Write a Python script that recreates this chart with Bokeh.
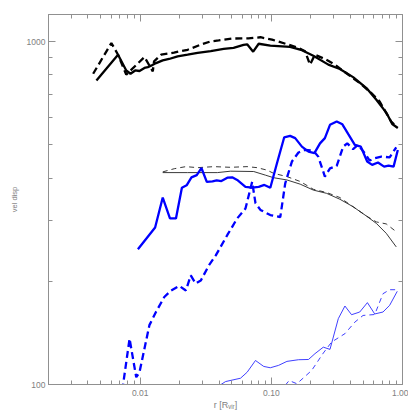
from bokeh.plotting import figure
from bokeh.models import LogAxis, FixedTicker, Range1d, PrintfTickFormatter
from bokeh.embed import file_html
from bokeh.resources import INLINE

# ---------------- data ----------------
# thick black, solid
bk_thick_solid_r = [0.00464, 0.00678, 0.00783, 0.00844, 0.00916, 0.00988, 0.01078, 0.01144, 0.01211, 0.01322,
                    0.01486, 0.0166, 0.0193, 0.0230, 0.0274, 0.0345, 0.0433, 0.0515, 0.0614, 0.0654, 0.0727,
                    0.0801, 0.0982, 0.139, 0.171, 0.209, 0.272, 0.333, 0.420, 0.531, 0.632, 0.752, 0.835, 0.921]
bk_thick_solid_v = [770, 916, 824, 806, 824, 821, 838, 843, 851, 866,
                    882, 890, 906, 916, 927, 939, 952, 959, 978, 982, 935,
                    986, 973, 966, 944, 910, 857, 832, 788, 732, 677, 621, 575, 560]

# thick black, dashed
bk_thick_dash_r = [0.00438, 0.00603, 0.00678, 0.00783, 0.01078, 0.01248, 0.01276, 0.01443, 0.0181, 0.0230,
                   0.0290, 0.0345, 0.0397, 0.0503, 0.0669, 0.0826, 0.1012, 0.1345, 0.161, 0.181, 0.197,
                   0.215, 0.256, 0.305, 0.385, 0.472, 0.579, 0.670, 0.752, 0.820, 0.896]
bk_thick_dash_v = [806, 991, 916, 801, 902, 819, 876, 916, 929, 947,
                   980, 1002, 1008, 1021, 1022, 1030, 1014, 980, 959, 937, 857,
                   916, 890, 857, 802, 757, 708, 669, 619, 585, 565]

# thin black, solid
bk_thin_solid_r = [0.01486, 0.0230, 0.0388, 0.0489, 0.0734, 0.0901, 0.104, 0.1315, 0.166, 0.209,
                   0.264, 0.333, 0.420, 0.531, 0.632, 0.752, 0.896]
bk_thin_solid_v = [415, 415, 415, 419, 418, 408, 401, 395, 384, 369,
                   361, 347, 330, 310, 295, 276, 252]

# thin black, dashed
bk_thin_dash_r = [0.01486, 0.0182, 0.0223, 0.0274, 0.0366, 0.0489, 0.0654, 0.0779, 0.0927, 0.104,
                  0.1315, 0.166, 0.209, 0.264, 0.333, 0.420, 0.531, 0.632, 0.752, 0.896]
bk_thin_dash_v = [417, 426, 432, 429, 432, 430, 432, 429, 422, 413,
                  404, 391, 371, 363, 351, 330, 310, 298, 294, 279]

# thick blue, solid
bl_thick_solid_r = [0.00961, 0.0130, 0.01486, 0.01687, 0.01874, 0.0208, 0.0226, 0.0246, 0.0270, 0.0293,
                    0.0322, 0.0356, 0.0383, 0.0416, 0.0462, 0.0503, 0.0549, 0.0635, 0.0714, 0.0801,
                    0.0885, 0.0982, 0.1104, 0.1254, 0.139, 0.152, 0.171, 0.192, 0.213, 0.235,
                    0.256, 0.280, 0.315, 0.348, 0.385, 0.433, 0.481, 0.538, 0.587, 0.650,
                    0.724, 0.783, 0.855, 0.921]
bl_thick_solid_v = [248, 287, 351, 305, 305, 375, 381, 402, 408, 428,
                    390, 391, 394, 392, 401, 402, 395, 377, 375, 377,
                    382, 375, 442, 526, 531, 523, 494, 478, 473, 505,
                    523, 572, 585, 574, 538, 500, 494, 447, 437, 444,
                    432, 435, 432, 483]

# thick blue, dashed
bl_thick_dash_r = [0.00730, 0.00830, 0.00933, 0.00988, 0.01176, 0.01322, 0.01527, 0.01718, 0.01985, 0.0223,
                   0.0243, 0.0265, 0.0290, 0.0335, 0.0377, 0.0462, 0.0549, 0.0635, 0.0714, 0.0757,
                   0.0826, 0.0982, 0.117, 0.1276, 0.1435, 0.161, 0.181, 0.209, 0.228, 0.256,
                   0.280, 0.315, 0.353, 0.379, 0.420, 0.458, 0.515, 0.562, 0.614, 0.690,
                   0.798, 0.896]
bl_thick_dash_v = [96, 136, 105, 108.6, 149, 163, 180, 188, 194, 188,
                   208, 197, 201, 223, 238, 273, 305, 326, 390, 338,
                   323, 312, 308, 386, 447, 475, 483, 481, 462, 404,
                   427, 434, 494, 505, 486, 500, 473, 450, 457, 462,
                   460, 492]

# thin blue, solid
bl_thin_solid_r = [0.0405, 0.0448, 0.0582, 0.0654, 0.0757, 0.0875, 0.0982, 0.1135, 0.1315, 0.161,
                   0.192, 0.215, 0.249, 0.280, 0.324, 0.364, 0.409, 0.472, 0.540, 0.614,
                   0.710, 0.798, 0.912]
bl_thin_solid_v = [99.5, 102, 104.3, 108.6, 117.5, 112.9, 111.9, 113.7, 116.8, 118.1,
                   118.3, 123, 128.5, 126.6, 155.6, 169.4, 159.8, 162.7, 173.3, 160.6,
                   162.7, 170.2, 187]

# thin blue, dashed
bl_thin_dash_r = [0.1276, 0.1368, 0.1566, 0.203, 0.249, 0.288, 0.364, 0.433, 0.500, 0.614,
                  0.710, 0.798, 0.896]
bl_thin_dash_v = [99.5, 102.7, 100.5, 109.9, 123.5, 133, 140.7, 152, 159, 160,
                  184, 189, 189]

x_major = [0.01, 0.1, 1.0]
x_minor = [0.002, 0.003, 0.004, 0.005, 0.006, 0.007, 0.008, 0.009,
           0.02, 0.03, 0.04, 0.05, 0.06, 0.07, 0.08, 0.09,
           0.2, 0.3, 0.4, 0.5, 0.6, 0.7, 0.8, 0.9]
y_major = [100, 1000]
y_minor = [200, 300, 400, 500, 600, 700, 800, 900]

x_label = "r [R\u1d65\u1d62\u1d63]"
y_label = "vel disp"

# ---------------- figure ----------------
AXC = "#909090"
TXC = "#808080"
FONT = "Liberation Sans"

p = figure(width=408, height=414, x_axis_type="log", y_axis_type="log",
           x_range=Range1d(0.002, 1.0), y_range=Range1d(100, 1200),
           output_backend="svg", toolbar_location=None,
           min_border_left=48, min_border_right=6, min_border_top=14, min_border_bottom=30)
p.grid.visible = False
p.outline_line_color = AXC
p.outline_line_width = 1
p.background_fill_color = "white"
p.border_fill_color = "white"


def style(ax, major, minor, fmt, standoff):
    ax.ticker = FixedTicker(ticks=major, minor_ticks=minor)
    ax.formatter = PrintfTickFormatter(format=fmt)
    ax.axis_line_color = AXC
    ax.major_tick_line_color = AXC
    ax.minor_tick_line_color = AXC
    ax.major_tick_in = 7
    ax.major_tick_out = 0
    ax.minor_tick_in = 4
    ax.minor_tick_out = 0
    ax.major_label_text_font = FONT
    ax.major_label_text_font_size = "8.5px"
    ax.major_label_text_color = TXC
    ax.major_label_standoff = standoff


style(p.xaxis[0], x_major, x_minor, "%.2f", 5)
style(p.yaxis[0], y_major, y_minor, "%d", 3)

p.xaxis[0].axis_label = x_label
p.xaxis[0].axis_label_text_font = FONT
p.xaxis[0].axis_label_text_font_size = "9px"
p.xaxis[0].axis_label_text_font_style = "normal"
p.xaxis[0].axis_label_text_color = TXC
p.xaxis[0].axis_label_standoff = 1

p.yaxis[0].axis_label = y_label
p.yaxis[0].axis_label_text_font = FONT
p.yaxis[0].axis_label_text_font_size = "7.5px"
p.yaxis[0].axis_label_text_font_style = "normal"
p.yaxis[0].axis_label_text_color = TXC
p.yaxis[0].axis_label_standoff = 5

top = LogAxis()
style(top, x_major, x_minor, "", 0)
p.add_layout(top, "above")
right = LogAxis()
style(right, y_major, y_minor, "", 0)
p.add_layout(right, "right")

# ---------------- lines ----------------
p.line(bk_thick_solid_r, bk_thick_solid_v, line_color="black", line_width=2.3)
p.line(bk_thick_dash_r, bk_thick_dash_v, line_color="black", line_width=2.3, line_dash="7 4")
p.line(bk_thin_solid_r, bk_thin_solid_v, line_color="#222222", line_width=0.9)
p.line(bk_thin_dash_r, bk_thin_dash_v, line_color="#222222", line_width=0.9, line_dash="5 4")
p.line(bl_thick_solid_r, bl_thick_solid_v, line_color="#0000ff", line_width=2.3)
p.line(bl_thick_dash_r, bl_thick_dash_v, line_color="#0000ff", line_width=2.3, line_dash="7 4")
p.line(bl_thin_solid_r, bl_thin_solid_v, line_color="#2a2aff", line_width=0.9)
p.line(bl_thin_dash_r, bl_thin_dash_v, line_color="#2a2aff", line_width=0.9, line_dash="5 4")

open("out.html", "w").write(file_html(p, INLINE))
